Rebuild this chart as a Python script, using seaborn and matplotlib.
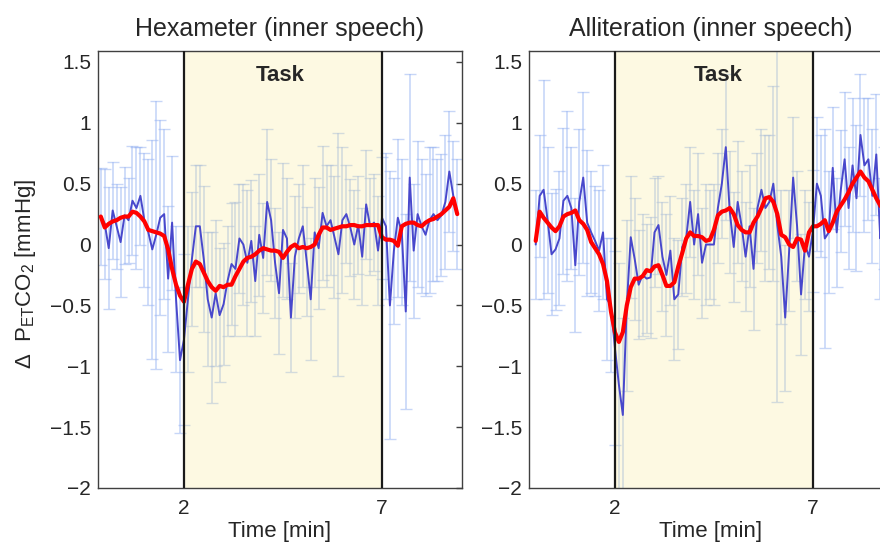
import numpy as np
import pandas as pd
import matplotlib
import matplotlib.pyplot as plt
import matplotlib.ticker as ticker
import seaborn as sns

matplotlib.use('Agg')

# Sampling grid (minutes)
hex_time = np.round(np.arange(-0.1, 8.95, 0.1), 2)
all_time = np.round(np.arange(0.0, 8.95, 0.1), 2)

# Hexameter: mean trace, error half-width, smoothed trace
hex_mean = [0.23, 0.17, -0.03, 0.28, 0.15, 0.02, 0.24, 0.2, 0.36, 0.3, 0.4,
            0.2, 0.1, -0.04, 0.08, 0.22, 0.25, -0.28, 0.18, -0.45, -0.95,
            -0.78, -0.45, -0.12, 0.15, 0.15, -0.12, -0.45, -0.6, -0.4, -0.58,
            -0.49, -0.3, -0.16, -0.2, 0.05, 0.0, -0.15, 0.03, -0.3, 0.08,
            -0.11, 0.35, 0.2, -0.15, -0.4, 0.12, 0.05, -0.6, -0.1, 0.05,
            0.15, -0.14, -0.45, 0.1, -0.03, 0.26, 0.15, 0.2, 0.06, -0.08,
            0.2, 0.25, 0.14, 0.0, 0.16, -0.1, 0.33, 0.15, 0.18, -0.05,
            0.22, 0.15, -0.5, -0.05, 0.22, 0.1, -0.55, 0.55, -0.05, 0.25,
            0.15, 0.08, 0.2, 0.25, 0.2, 0.24, 0.35, 0.6, 0.4, 0.25]
hex_err = [0.4, 0.45, 0.5, 0.4, 0.35, 0.45, 0.4, 0.35, 0.45, 0.5, 0.4,
           0.55, 0.6, 0.9, 1.1, 0.8, 0.7, 0.6, 0.55, 0.6, 0.6,
           0.7, 0.6, 0.55, 0.5, 0.5, 0.6, 0.55, 0.7, 0.6, 0.55,
           0.5, 0.45, 0.5, 0.55, 0.45, 0.5, 0.6, 0.5, 0.45, 0.5,
           0.45, 0.6, 0.5, 0.45, 0.5, 0.55, 0.5, 0.45, 0.5, 0.45,
           0.5, 0.45, 0.5, 0.45, 0.5, 0.55, 0.5, 0.45, 0.5, 1.0,
           0.6, 0.4, 0.4, 0.45, 0.4, 0.4, 0.45, 0.4, 0.4, 0.45,
           0.5, 0.6, 1.1, 0.6, 0.65, 0.6, 0.8, 0.85, 0.55, 0.6,
           0.55, 0.5, 0.6, 0.55, 0.5, 0.5, 0.55, 0.5, 0.45, 0.45]
hex_smooth = [0.23, 0.14, 0.17, 0.19, 0.2, 0.22, 0.23, 0.23, 0.27, 0.26, 0.23,
              0.19, 0.12, 0.11, 0.1, 0.09, 0.07, -0.04, -0.2, -0.33, -0.42,
              -0.47, -0.33, -0.2, -0.14, -0.16, -0.23, -0.3, -0.35, -0.38, -0.34,
              -0.35, -0.33, -0.33, -0.26, -0.2, -0.14, -0.11, -0.1, -0.08, -0.05,
              -0.03, -0.04, -0.05, -0.05, -0.06, -0.11, -0.06, -0.02, 0.0, -0.03,
              -0.02, -0.03, -0.02, 0.0, 0.08, 0.14, 0.14, 0.12, 0.13, 0.14,
              0.15, 0.15, 0.16, 0.16, 0.15, 0.15, 0.16, 0.16, 0.16, 0.16,
              0.06, 0.04, 0.04, 0.03, -0.01, 0.15, 0.17, 0.18, 0.18, 0.16,
              0.15, 0.18, 0.2, 0.21, 0.23, 0.25, 0.28, 0.31, 0.38, 0.25]

# Alliteration: mean trace, error half-width, smoothed trace
all_mean = [0.0, 0.4, 0.45, 0.2, -0.08, -0.04, 0.05, 0.36, 0.4, 0.3,
            -0.17, 0.35, 0.55, 0.18, 0.1, 0.03, -0.05, 0.1, -0.45, -0.5,
            -0.85, -1.15, -1.4, -0.5, 0.06, -0.12, -0.33, -0.25, -0.28, -0.27,
            0.1, 0.16, -0.1, -0.25, -0.05, -0.45, -0.41, -0.02, 0.05, 0.35,
            0.0, 0.25, -0.15, 0.0, 0.0, 0.0, 0.3, 0.5, 0.8, 0.27,
            -0.02, 0.35, 0.15, -0.1, 0.15, -0.2, 0.3, 0.45, 0.3, 0.35,
            0.5, 0.16, -0.1, -0.6, -0.05, 0.55, 0.15, -0.41, 0.0, -0.1,
            0.11, 0.5, 0.4, 0.05, 0.1, 0.63, 0.1, 0.44, 0.7, 0.3,
            0.65, 0.38, 0.9, 0.65, 0.7, 0.4, 0.74, 0.05, 0.3, 0.4]
all_err = [0.45, 0.5, 0.9, 0.6, 0.5, 0.5, 0.55, 0.6, 0.7, 0.5,
           0.55, 0.6, 0.7, 0.6, 0.5, 0.45, 0.5, 0.55, 0.5, 0.55,
           0.8, 1.0, 0.8, 0.7, 0.5, 0.5, 0.45, 0.5, 0.45, 0.5,
           0.45, 0.4, 0.45, 0.5, 0.45, 0.5, 0.45, 0.4, 0.45, 0.45,
           0.45, 0.5, 0.45, 0.5, 0.45, 0.5, 0.45, 0.45, 0.6, 0.5,
           0.45, 0.5, 0.45, 0.45, 0.5, 0.5, 0.45, 0.5, 0.6, 0.55,
           0.8, 1.45, 0.55, 0.6, 0.5, 0.5, 0.45, 0.5, 0.45, 0.45,
           0.5, 0.55, 0.5, 0.9, 0.5, 0.5, 0.45, 0.5, 0.55, 0.5,
           0.55, 0.6, 0.5, 0.55, 0.5, 0.55, 0.5, 0.5, 0.5, 0.5]
all_smooth = [0.03, 0.27, 0.22, 0.18, 0.14, 0.11, 0.15, 0.23, 0.25, 0.26,
              0.28, 0.2, 0.17, 0.12, 0.02, -0.03, -0.08, -0.16, -0.3, -0.55,
              -0.72, -0.8, -0.72, -0.5, -0.35, -0.28, -0.28, -0.26, -0.21, -0.22,
              -0.18, -0.17, -0.25, -0.34, -0.34, -0.31, -0.18, -0.07, 0.05, 0.1,
              0.07, 0.07, 0.06, 0.03, 0.04, 0.12, 0.24, 0.27, 0.28, 0.3,
              0.25, 0.16, 0.12, 0.1, 0.1, 0.18, 0.23, 0.3, 0.38, 0.39,
              0.35, 0.25, 0.08, 0.06, 0.0, -0.02, 0.05, 0.04, -0.05, 0.1,
              0.15, 0.15, 0.17, 0.2, 0.11, 0.18, 0.27, 0.32, 0.37, 0.43,
              0.5, 0.55, 0.6, 0.55, 0.52, 0.45, 0.38, 0.32, 0.28, 0.25]

titles = ['Hexameter (inner speech)', 'Alliteration (inner speech)']
task_start, task_end = 2, 7

sns.set_style('white')
plt.rcParams['font.family'] = ['Liberation Sans', 'DejaVu Sans']
plt.rcParams['mathtext.fontset'] = 'custom'
plt.rcParams['mathtext.rm'] = 'Liberation Sans'
plt.rcParams['mathtext.it'] = 'Liberation Sans:italic'

fig = plt.figure(figsize=(8.8, 5.43), dpi=100)
ax_hex = fig.add_axes([0.1114, 0.1013, 0.4136, 0.8048])
ax_all = fig.add_axes([0.6011, 0.1013, 0.4136, 0.8048])

panels = [
    (ax_hex, pd.DataFrame({'time': hex_time, 'mean': hex_mean, 'err': hex_err, 'smooth': hex_smooth}), 4.42),
    (ax_all, pd.DataFrame({'time': all_time, 'mean': all_mean, 'err': all_err, 'smooth': all_smooth}), 4.62),
]

for i, (ax, df, task_x) in enumerate(panels):
    # error bars underneath everything
    ax.errorbar(df['time'], df['mean'], yerr=df['err'], fmt='none',
                ecolor='#9ab5f2', elinewidth=1.2, capsize=4, capthick=1,
                alpha=0.55, zorder=1)
    # task window shading drawn over the error bars
    ax.axvspan(task_start, task_end, color='#faeb8c', alpha=0.25, lw=0, zorder=2)
    sns.lineplot(data=df, x='time', y='mean', ax=ax, color='#4848cc', lw=1.4,
                 estimator=None, sort=False, zorder=3)
    sns.lineplot(data=df, x='time', y='smooth', ax=ax, color='#ff0000', lw=3,
                 estimator=None, sort=False, zorder=4)
    ax.axvline(task_start, color='#1a1a1a', lw=1.6, zorder=5)
    ax.axvline(task_end, color='#1a1a1a', lw=1.6, zorder=5)
    ax.text(task_x, 1.385, 'Task', ha='center', va='center',
            fontsize=16, fontweight='bold', zorder=6)

    ax.set_xlim(-0.17, 9.02)
    ax.set_ylim(-2, 1.59)
    ax.set_xticks([task_start, task_end])
    ax.set_yticks(np.arange(-2, 1.6, 0.5))
    ax.yaxis.set_major_formatter(ticker.FuncFormatter(lambda v, _: '{:g}'.format(v).replace('-', '\u2212')))
    ax.tick_params(axis='y', direction='in', length=4, width=1, color='#404040',
                   right=True, labelsize=15, pad=5)
    ax.tick_params(axis='x', direction='in', length=0, labelsize=15, pad=8)
    for sp in ax.spines.values():
        sp.set_color('#404040')
        sp.set_linewidth(1)
    ax.set_title(titles[i], fontsize=18, pad=11)
    ax.set_xlabel('Time [min]', fontsize=16, labelpad=2)
    ax.set_ylabel('')

ax_hex.set_ylabel('\u0394  P$_{\\mathrm{ET}}$CO$_2$ [mmHg]', fontsize=16)
ax_hex.yaxis.set_label_coords(-0.165, 0.49)

plt.savefig('out.png', dpi=100)
